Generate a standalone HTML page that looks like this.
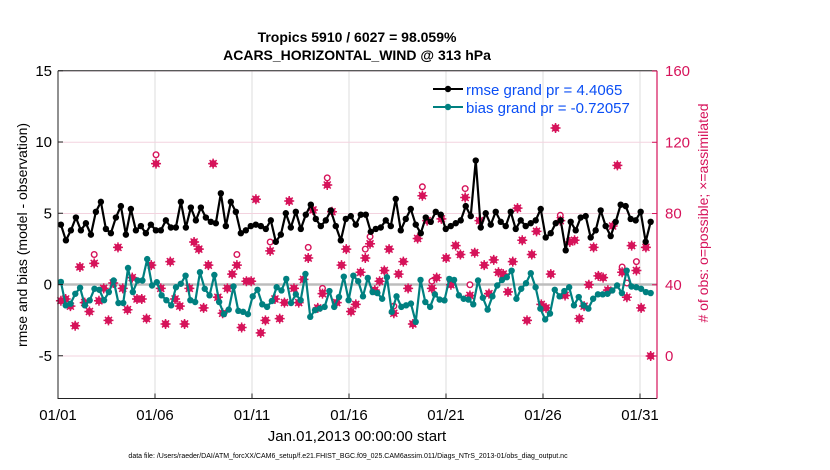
<!DOCTYPE html>
<html><head><meta charset="utf-8"><style>
body{margin:0;background:#fff;}
svg{display:block;font-family:"Liberation Sans",sans-serif;}
</style></head><body>
<svg id="chart" width="830" height="470" viewBox="0 0 830 470" xmlns="http://www.w3.org/2000/svg">
<rect width="830" height="470" fill="#fff"/>
<g id="grid"></g>
<g id="plot"></g>
<g id="axes"></g>
<text x="357" y="42" text-anchor="middle" font-size="14" font-weight="bold">Tropics 5910 / 6027 = 98.059%</text>
<text x="357" y="60" text-anchor="middle" font-size="14" font-weight="bold">ACARS_HORIZONTAL_WIND @ 313 hPa</text>
<text transform="translate(27,235) rotate(-90)" text-anchor="middle" font-size="14">rmse and bias (model - observation)</text>
<text transform="translate(708,213) rotate(-90)" text-anchor="middle" font-size="14" fill="#d6135a"># of obs: o=possible; ×=assimilated</text>
<text x="357" y="441" text-anchor="middle" font-size="15">Jan.01,2013 00:00:00 start</text>
<text x="348" y="458" text-anchor="middle" font-size="7">data file: /Users/raeder/DAI/ATM_forcXX/CAM6_setup/f.e21.FHIST_BGC.f09_025.CAM6assim.011/Diags_NTrS_2013-01/obs_diag_output.nc</text>
<g>
<line x1="433" y1="89" x2="463" y2="89" stroke="#000" stroke-width="2"/>
<circle cx="448" cy="89" r="3.2" fill="#000"/>
<text x="466" y="95" font-size="15" fill="#0a4ef5">rmse grand pr = 4.4065</text>
<line x1="433" y1="107" x2="463" y2="107" stroke="#008080" stroke-width="2"/>
<circle cx="448" cy="107" r="3.2" fill="#008080"/>
<text x="466" y="113" font-size="15" fill="#0a4ef5">bias grand pr = -0.72057</text>
</g>
</svg>
<script>
const xTickLabels=["01/01","01/06","01/11","01/16","01/21","01/26","01/31"];
const xTickDays=[0,5,10,15,20,25,30];
const yTicks=[15,10,5,0,-5];
const y2Ticks=[0,40,80,120,160];
const rmse=[4.2,3.1,3.8,4.7,3.8,4.3,3.5,5.1,5.8,3.9,3.6,4.7,5.5,3.5,5.3,3.8,4.1,3.6,4.2,3.8,3.8,4.5,4.0,4.0,5.8,4.0,5.4,4.5,5.4,4.7,4.4,4.3,6.4,4.1,5.8,5.1,3.6,3.8,4.1,4.2,4.1,3.9,4.5,3.0,3.5,5.0,4.0,5.1,3.9,4.9,5.6,4.6,4.1,4.5,5.2,4.1,3.1,4.6,4.8,4.2,
4.9,4.9,3.7,3.9,4.0,4.5,4.1,6.0,3.8,4.6,5.3,4.2,3.6,4.7,4.4,5.1,4.9,3.9,4.1,4.3,4.5,5.5,4.8,8.7,4.0,5.0,4.2,5.1,4.4,4.1,5.1,3.9,4.5,4.1,4.3,4.5,5.3,3.3,3.6,4.3,4.5,2.4,4.4,3.8,4.7,4.8,3.3,3.8,5.2,4.1,3.4,4.4,5.6,5.5,4.6,4.5,5.1,3.0,4.4];
const bias=[0.18,-1.46,-1.35,-0.65,-0.23,-1.46,-1.11,-0.3,-0.37,-1.1,-0.53,0.28,-1.3,-1.3,1.16,-0.53,0.28,0.28,1.78,-0.07,0.16,-0.76,-1.1,-1.46,-0.19,0.05,0.62,-1.1,-1.23,0.86,-0.3,-0.76,0.67,-1.23,-2.08,-1.76,-0.14,-1.85,-1.92,-2.08,-0.83,-0.37,-1.39,-1.57,-1.16,-0.19,-0.42,0.39,-1.3,-0.69,-1.1,0.74,-2.27,-1.8,-1.69,-1.57,-0.46,-1.57,-0.88,0.55,-1.1,0.62,0.23,
-0.83,0.46,-0.53,-0.6,-1.0,0.51,-1.92,-0.83,-1.57,-1.46,-1.34,-2.62,0.32,-1.23,-1.57,-0.69,-1.06,-1.11,0.39,0.32,-0.76,-1.0,-1.06,-1.39,0.28,-0.93,-1.76,-0.83,-0.07,0.32,0.51,0.97,-1.0,-0.3,0.09,0.79,-0.19,-1.69,-2.45,-2.04,-0.37,-0.83,-0.46,-0.19,-1.46,-0.88,-1.46,-1.69,-1.0,-0.69,-0.69,-0.65,-0.42,-0.07,-0.6,0.97,-0.14,-0.19,-0.3,-0.53,-0.6];
const obsAssim=[31,32,28,17,50,30,25,52,31,38,20,41,61,38,26,44,32,32,21,51,108,38,18,53,32,28,18,38,64,60,27,51,108,33,24,38,46,51,16,42,42,88,13,20,59,32,21,30,87,38,30,43,55,82,27,35,96,81,30,51,60,25,29,
47,55,63,37,42,48,60,24,46,53,38,18,66,90,76,38,44,77,55,40,62,57,89,34,58,76,51,35,54,47,46,36,53,83,65,20,57,70,29,27,46,128,76,34,64,65,21,28,40,61,45,44,37,73,107,47,33,62,48,27,61,0];
const obsPossible=[31,32,28,17,50,30,25,57,31,38,20,41,61,38,26,44,32,32,21,51,113,38,18,53,32,28,18,38,64,60,27,51,108,33,24,38,46,57,16,42,42,88,13,20,64,32,21,30,87,38,30,43,61,82,27,38,100,81,30,51,60,25,29,
47,60,67,37,42,48,60,28,46,53,38,18,66,95,76,42,44,77,55,40,62,57,94,40,58,76,51,35,54,47,46,36,53,83,65,20,57,70,29,27,46,128,79,34,64,65,21,28,40,61,45,44,37,73,107,50,41,62,53,27,61,0];

const NS='http://www.w3.org/2000/svg';
const X0=58,X1=657,YT=70.75,YB=398.5;
const xScale=d=>X0+d*19.4;
const yScale=v=>284.5-v*14.25;
const y2Scale=c=>356-c*1.781;
const tStart=0.15,tEnd=30.55;
const timeAt=(i,n)=>tStart+i*(tEnd-tStart)/(n-1);
function mk(tag,attrs,parent){const e=document.createElementNS(NS,tag);for(const k in attrs)e.setAttribute(k,attrs[k]);parent.appendChild(e);return e;}
const gridG=document.getElementById('grid'),plotG=document.getElementById('plot'),axesG=document.getElementById('axes');

xTickDays.forEach(d=>{const l=mk('line',{x1:xScale(d),x2:xScale(d),y1:YT,y2:YB,stroke:'#dcdcdc','stroke-width':1},gridG);

});
y2Ticks.forEach(c=>{const l=mk('line',{x1:X0,x2:X1,y1:y2Scale(c),y2:y2Scale(c),stroke:'#f3d3df','stroke-width':1},gridG);

});
const zl=mk('line',{x1:X0,x2:X1,y1:yScale(0),y2:yScale(0),stroke:'#bdbdbd','stroke-width':2.5},gridG);



const og=mk('g',{},plotG);


const PINK='#d6135a';
obsAssim.forEach((c,i)=>{
  const x=xScale(timeAt(i,obsAssim.length));
  const o=mk('circle',{cx:x,cy:y2Scale(obsPossible[i]),r:2.8,fill:'#fff',stroke:PINK,'stroke-width':1.4},og);
  
  
  const y=y2Scale(c);
  const a=mk('g',{},og);
  
  
  mk('circle',{cx:x,cy:y,r:3.4,fill:PINK},a);
  mk('path',{d:`M${x-5},${y}H${x+5}M${x},${y-5}V${y+5}M${x-3.5},${y-3.5}L${x+3.5},${y+3.5}M${x-3.5},${y+3.5}L${x+3.5},${y-3.5}`,stroke:PINK,'stroke-width':1.5},a);
});

function series(vals,color,name){
  const g=mk('g',{},plotG);
  
  
  const pts=vals.map((v,i)=>[xScale(timeAt(i,vals.length)),yScale(v)]);
  const p=mk('polyline',{points:pts.map(p=>p.join(',')).join(' '),fill:'none',stroke:color,'stroke-width':2.2,'stroke-linejoin':'round'},g);
  
  
  pts.forEach(q=>{const c=mk('circle',{cx:q[0],cy:q[1],r:3.2,fill:color},g);
    
    });
}
series(bias,'#008080','bias-series');
series(rmse,'#000000','rmse-series');

const ax=mk('path',{d:`M${X0},${YT}V${YB}H${X1}`,fill:'none',stroke:'#222','stroke-width':1},axesG);


const topLine=mk('line',{x1:X0,x2:X1,y1:YT,y2:YT,stroke:'#222','stroke-width':1},axesG);


const ra=mk('line',{x1:X1,x2:X1,y1:YT,y2:YB,stroke:PINK,'stroke-width':1.2},axesG);


xTickDays.forEach((d,i)=>{const x=xScale(d);
  mk('line',{x1:x,x2:x,y1:YB,y2:YB-5,stroke:'#222'},axesG);
  const t=mk('text',{x:x,y:420,'text-anchor':'middle','font-size':15},axesG);t.textContent=xTickLabels[i];
  
  });
yTicks.forEach(v=>{const y=yScale(v);
  mk('line',{x1:X0,x2:X0+5,y1:y,y2:y,stroke:'#222'},axesG);
  const t=mk('text',{x:52,y:y+5,'text-anchor':'end','font-size':15},axesG);t.textContent=String(v);
  
  });
y2Ticks.forEach(c=>{const y=y2Scale(c);
  mk('line',{x1:X1,x2:X1-5,y1:y,y2:y,stroke:PINK},axesG);
  const t=mk('text',{x:665,y:y+5,'font-size':15,fill:PINK},axesG);t.textContent=String(c);
  
  });
</script>
</body></html>
